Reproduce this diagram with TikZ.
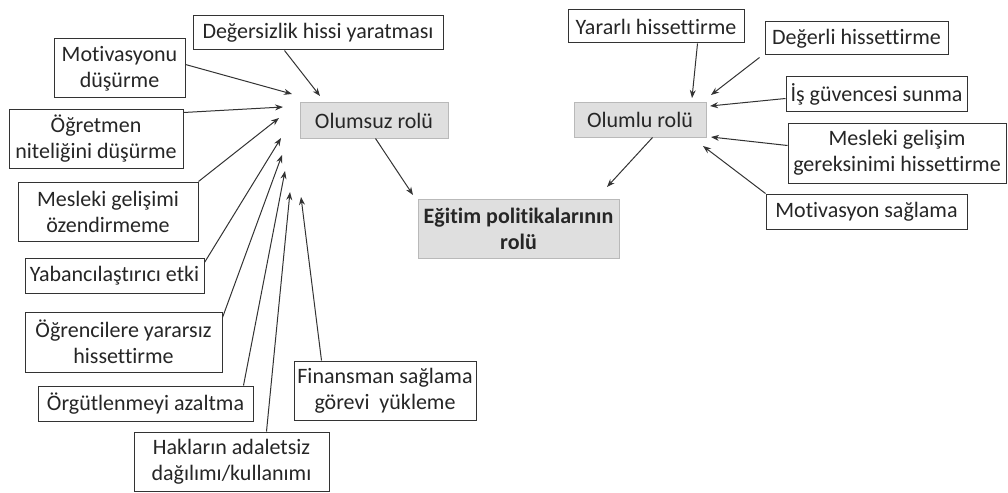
\documentclass[tikz,border=0pt]{standalone}
\usepackage{fontspec}
\setmainfont{Carlito}[Ligatures={NoCommon}]
\usetikzlibrary{arrows.meta,calc}
\tikzset{
  box/.style={draw=black!80, line width=1pt, fill=white, rectangle, inner sep=0pt, align=center, text=black!85, font=\fontsize{22}{26}\selectfont},
  rolebox/.style={box, draw=gray!55, fill=gray!25},
  arr/.style={draw=black!80, line width=1pt, -{Stealth[length=8pt,width=6pt]}}
}
\begin{document}
\begin{tikzpicture}[x=1pt,y=-1pt]
\useasboundingbox (0,0) rectangle (1008,492);
% left side
\node[box, minimum width=250pt, minimum height=34pt] (des) at (318,33) {Değersizlik hissi yaratması};
\node[box, minimum width=131pt, minimum height=59pt] (mot) at (119.5,68.5) {Motivasyonu\\düşürme};
\node[box, minimum width=174pt, minimum height=58pt] (ogt) at (96,139) {Öğretmen\\niteliğini düşürme};
\node[box, minimum width=180pt, minimum height=59pt] (mgl) at (108,211.5) {Mesleki gelişimi\\özendirmeme};
\node[box, minimum width=179pt, minimum height=35pt] (yab) at (114.5,275.5) {Yabancılaştırıcı etki};
\node[box, minimum width=197pt, minimum height=60pt] (ogr) at (123.5,342) {Öğrencilere yararsız\\hissettirme};
\node[box, minimum width=215pt, minimum height=35pt] (org) at (145.5,403.5) {Örgütlenmeyi azaltma};
\node[box, minimum width=195pt, minimum height=59pt] (hak) at (231.5,461.5) {Hakların adaletsiz\\dağılımı/kullanımı};
\node[box, minimum width=182pt, minimum height=59pt] (fin) at (385,390.5) {Finansman sağlama\\görevi\ \ yükleme};
\node[rolebox, minimum width=148pt, minimum height=35pt] (olumsuz) at (374,120.5) {Olumsuz rolü};
% centre
\node[rolebox, minimum width=201pt, minimum height=59pt, font=\fontsize{22}{26}\selectfont\bfseries] (egit) at (518.5,228.5) {Eğitim politikalarının\\rolü};
% right side
\node[rolebox, minimum width=132pt, minimum height=34pt] (olumlu) at (640,120) {Olumlu rolü};
\node[box, minimum width=176pt, minimum height=33pt] (yar) at (656,26.5) {Yararlı hissettirme};
\node[box, minimum width=183pt, minimum height=33pt] (deg) at (856.5,38.5) {Değerli hissettirme};
\node[box, minimum width=181pt, minimum height=35pt] (isg) at (876.5,94.5) {İş güvencesi sunma};
\node[box, minimum width=218pt, minimum height=60pt] (mgg) at (897,153) {Mesleki gelişim\\gereksinimi hissettirme};
\node[box, minimum width=201pt, minimum height=35pt] (motv) at (866.5,211.5) {Motivasyon sağlama};
% arrow end points
\coordinate (tdes) at (320,96);
\coordinate (tmot) at (292,94);
\coordinate (togt) at (283,107);
\coordinate (tmgl) at (279,118);
\coordinate (tyab) at (281,138);
\coordinate (togr) at (282,155);
\coordinate (torg) at (285,171);
\coordinate (thak) at (290,192);
\coordinate (tfin) at (301,197);
\coordinate (tneg) at (413,195);
\coordinate (tyar) at (692,98);
\coordinate (tdeg) at (711,95);
\coordinate (tisg) at (710,106);
\coordinate (tmgg) at (711,137);
\coordinate (tmotv) at (703,146);
\coordinate (tpos) at (607,187);
% connectors
\draw[arr] ($(des.south west)+(92,0)$) -- (tdes);
\draw[arr] ($(mot.north east)+(0,26)$) -- (tmot);
\draw[arr] ($(ogt.north east)+(0,3)$) -- (togt);
\draw[arr] (mgl.north east) -- (tmgl);
\draw[arr] ($(yab.north east)+(0,5)$) -- (tyab);
\draw[arr] ($(ogr.north east)+(0,6)$) -- (togr);
\draw[arr] ($(org.north west)+(206,0)$) -- (torg);
\draw[arr] ($(hak.north west)+(133,0)$) -- (thak);
\draw[arr] ($(fin.north west)+(28,0)$) -- (tfin);
\draw[arr] ($(olumsuz.south west)+(76,0)$) -- (tneg);
\draw[arr] ($(yar.south west)+(130,0)$) -- (tyar);
\draw[arr] ($(deg.south west)+(-5,2)$) -- (tdeg);
\draw[arr] ($(isg.north west)+(0,22)$) -- (tisg);
\draw[arr] ($(mgg.north west)+(0,23)$) -- (tmgg);
\draw[arr] (motv.north west) -- (tmotv);
\draw[arr] ($(olumlu.south west)+(79,0)$) -- (tpos);
\end{tikzpicture}
\end{document}
